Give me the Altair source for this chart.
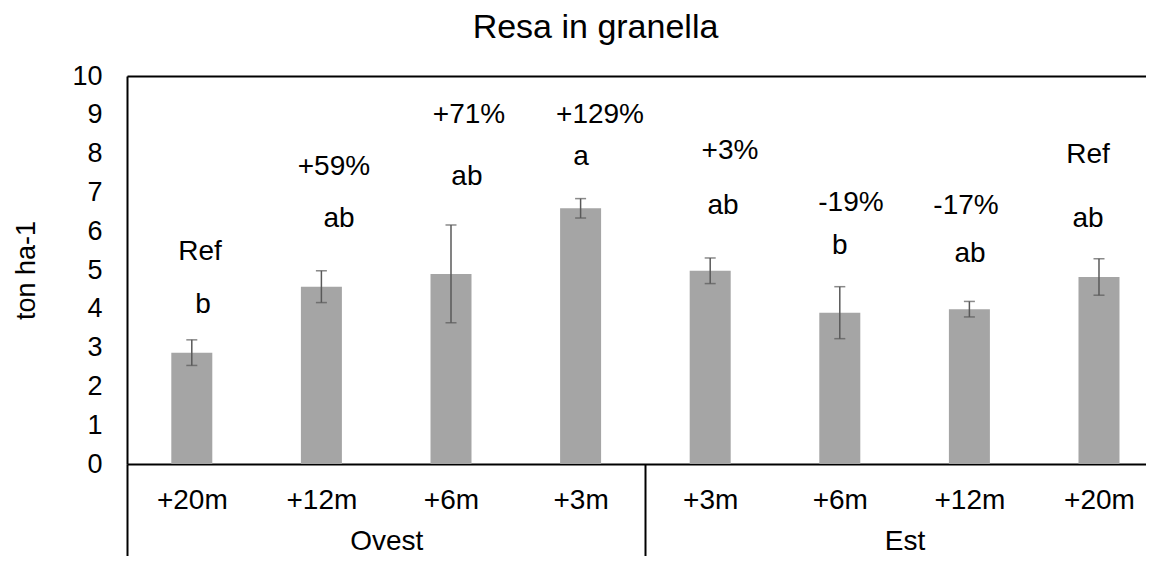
import altair as alt
import pandas as pd

# ---- data ----
categories = ["+20m", "+12m", "+6m", "+3m", "+3m", "+6m", "+12m", "+20m"]
groups = ["Ovest", "Est"]
group_sizes = [4, 4]
yields = [2.87, 4.57, 4.90, 6.59, 4.98, 3.90, 3.99, 4.82]
errors = [0.33, 0.41, 1.26, 0.25, 0.33, 0.67, 0.20, 0.47]
pct_labels = ["Ref", "+59%", "+71%", "+129%", "+3%", "-19%", "-17%", "Ref"]
letters = ["b", "ab", "ab", "a", "ab", "b", "ab", "ab"]
# annotation anchor positions (in data units: category index / ton ha-1)
pct_x = [0.563, 1.597, 2.639, 3.650, 4.653, 5.586, 6.474, 7.415]
pct_y = [5.46, 7.66, 9.00, 9.00, 8.07, 6.73, 6.65, 7.96]
letter_x = [0.586, 1.636, 2.623, 3.503, 4.599, 5.500, 6.505, 7.415]
letter_y = [4.10, 6.31, 7.39, 7.92, 6.65, 5.63, 5.41, 6.31]

n = len(categories)
pos = [i + 0.5 for i in range(n)]
df = pd.DataFrame({
    "pos": pos,
    "cat": categories,
    "yield": yields,
    "lo": [v - e for v, e in zip(yields, errors)],
    "hi": [v + e for v, e in zip(yields, errors)],
})
ann = pd.DataFrame({
    "px": pct_x, "py": pct_y, "pl": pct_labels,
    "lx": letter_x, "ly": letter_y, "ll": letters,
})

FONT = "Liberation Sans"
W, H = 1019, 388
XMAX = 7.8627

xscale = alt.Scale(domain=[0, XMAX], nice=False, zero=False, padding=0)
yscale = alt.Scale(domain=[0, 10], nice=False, padding=0)

cat_expr = "[" + ",".join("'" + c + "'" for c in categories) + "][round(datum.value - 0.5)]"
group_centers = []
start = 0
for s in group_sizes:
    group_centers.append(start + s / 2)
    start += s
boundaries = [0]
for s in group_sizes[:-1]:
    boundaries.append(boundaries[-1] + s)
grp_expr = "datum.value < " + str(group_sizes[0]) + " ? '" + groups[0] + "' : '" + groups[1] + "'"

axis_cats = alt.Axis(values=pos, labelExpr=cat_expr, ticks=False, tickSize=0,
                     domain=True, domainColor="black", domainWidth=2,
                     labelFontSize=28, labelPadding=22, labelOverlap=False,
                     labelFlush=False, labelBound=False, grid=False, title=None,
                     orient="bottom")
axis_groups = alt.Axis(values=group_centers, labelExpr=grp_expr, ticks=False, tickSize=0,
                       domain=False, labelFontSize=28, labelPadding=63,
                       labelOverlap=False, labelFlush=False, grid=False, title=None,
                       orient="bottom")
axis_seps = alt.Axis(values=boundaries, labels=False, ticks=True, tickSize=100,
                     tickColor="black", tickWidth=2, domain=False, grid=False,
                     title=None, orient="bottom")
axis_top = alt.Axis(labels=False, ticks=False, domain=True, domainColor="black",
                    domainWidth=2, grid=False, title=None, orient="top")

yaxis = alt.Axis(values=list(range(0, 11)), ticks=False, tickSize=0, domain=True,
                 domainColor="black", domainWidth=2, grid=False,
                 labelFontSize=27, labelPadding=25, title="ton ha-1",
                 titleFontSize=27, titleFontWeight="normal", titlePadding=31)

base = alt.Chart(df)

bars = base.mark_bar(size=41, color="#a5a5a5").encode(
    x=alt.X("pos:Q", scale=xscale, axis=axis_cats),
    y=alt.Y("yield:Q", scale=yscale, axis=yaxis, title="ton ha-1"),
)
err = base.mark_rule(color="#595959", strokeWidth=1.5).encode(
    x=alt.X("pos:Q", scale=xscale, axis=axis_groups),
    y=alt.Y("lo:Q", scale=yscale, axis=yaxis, title="ton ha-1"),
    y2="hi:Q",
)
cap_hi = base.mark_tick(orient="horizontal", size=11, thickness=1.5, color="#595959").encode(
    x=alt.X("pos:Q", scale=xscale, axis=axis_seps),
    y=alt.Y("hi:Q", scale=yscale, axis=yaxis, title="ton ha-1"),
)
cap_lo = base.mark_tick(orient="horizontal", size=11, thickness=1.5, color="#595959").encode(
    x=alt.X("pos:Q", scale=xscale, axis=axis_top),
    y=alt.Y("lo:Q", scale=yscale, axis=yaxis, title="ton ha-1"),
)
pct_text = alt.Chart(ann).mark_text(fontSize=28, font=FONT, color="black", baseline="middle").encode(
    x=alt.X("px:Q", scale=xscale, axis=None),
    y=alt.Y("py:Q", scale=yscale, axis=yaxis, title="ton ha-1"),
    text="pl:N",
)
letter_text = alt.Chart(ann).mark_text(fontSize=28, font=FONT, color="black", baseline="middle").encode(
    x=alt.X("lx:Q", scale=xscale, axis=None),
    y=alt.Y("ly:Q", scale=yscale, axis=yaxis, title="ton ha-1"),
    text="ll:N",
)

chart = alt.layer(bars, err, cap_hi, cap_lo, pct_text, letter_text).resolve_axis(
    x="independent"
).properties(
    width=W, height=H,
    autosize=alt.AutoSizeParams(type="none"),
    padding={"left": 119, "top": 68, "right": 0, "bottom": 92},
    title=alt.TitleParams("Resa in granella", fontSize=34, fontWeight="normal",
                          font=FONT, color="black", anchor="middle", dx=-41,
                          baseline="alphabetic", offset=-10),
).configure_view(stroke=None).configure(background="white").configure_axis(
    labelFont=FONT, labelColor="black", titleFont=FONT, titleColor="black"
).configure_axisY(
    titleFontSize=27, titleFontWeight="normal", titlePadding=31, labelFontSize=27
)

chart.save("out.html", embed_options={"renderer": "svg", "actions": False})
